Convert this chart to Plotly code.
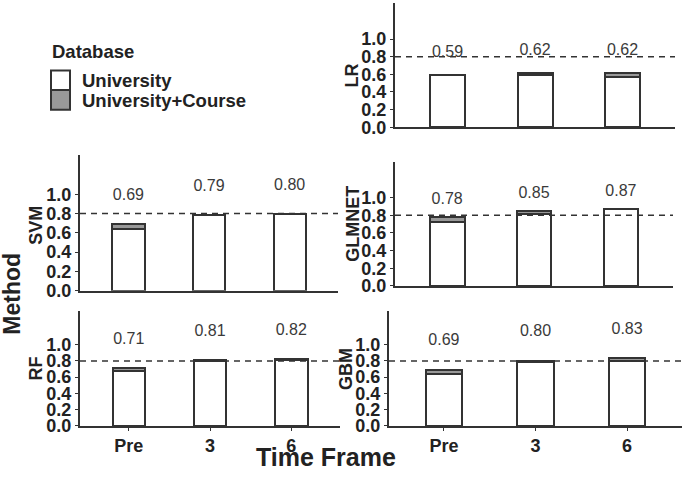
import plotly.graph_objects as go

W, H = 685, 477

time_frames = ["Pre", "3", "6"]
methods = ["LR", "SVM", "GLMNET", "RF", "GBM"]

# University-only AUC and University+Course AUC
uni_lr = [0.59, 0.59, 0.57]
uc_lr = [0.59, 0.62, 0.62]
uni_svm = [0.64, 0.78, 0.795]
uc_svm = [0.69, 0.79, 0.80]
uni_glmnet = [0.72, 0.82, 0.87]
uc_glmnet = [0.78, 0.85, 0.87]
uni_rf = [0.67, 0.80, 0.81]
uc_rf = [0.71, 0.81, 0.82]
uni_gbm = [0.64, 0.79, 0.80]
uc_gbm = [0.69, 0.80, 0.83]

threshold = 0.8
y_ticks = [0.0, 0.2, 0.4, 0.6, 0.8, 1.0]

uni_data = [uni_lr, uni_svm, uni_glmnet, uni_rf, uni_gbm]
uc_data = [uc_lr, uc_svm, uc_glmnet, uc_rf, uc_gbm]

# panel boxes in pixels: (left, right, top, bottom), label offset, title x,y, bottom row
panels = [
    dict(box=(395, 675, 3, 130), off=0.25, tx=352, ty=77, bottom=False),
    dict(box=(80, 338, 158, 297), off=0.29, tx=36.5, ty=230, bottom=False),
    dict(box=(395, 673, 165, 292), off=0.19, tx=353.5, ty=229, bottom=False),
    dict(box=(80, 340, 318, 435), off=0.35, tx=36.5, ty=377, bottom=True),
    dict(box=(389, 682, 318, 435), off=0.35, tx=346, ty=377, bottom=True),
]

LINE = "#333333"
TXT = "#222222"
FONT = "Liberation Sans"

fig = go.Figure()
shapes = []
annotations = []

for i, (m, uni, uc, p) in enumerate(zip(methods, uni_data, uc_data, panels)):
    n = i + 1
    xa = "x" if n == 1 else f"x{n}"
    ya = "y" if n == 1 else f"y{n}"
    diff = [round(b - a, 4) for a, b in zip(uni, uc)]
    fig.add_trace(go.Bar(x=time_frames, y=uni, width=0.4, xaxis=xa, yaxis=ya,
                         marker=dict(color="white", line=dict(color=LINE, width=2)),
                         name="University", showlegend=False))
    fig.add_trace(go.Bar(x=time_frames, y=diff, width=0.4, xaxis=xa, yaxis=ya,
                         marker=dict(color="#999999", line=dict(color=LINE, width=2)),
                         name="University+Course", showlegend=False))
    fig.add_trace(go.Scatter(x=time_frames, y=[v + p["off"] for v in uc], mode="text",
                             text=[f"{v:.2f}" for v in uc], xaxis=xa, yaxis=ya,
                             textposition="middle center",
                             textfont=dict(family=FONT, size=16, color="#3a3a3a"),
                             showlegend=False, hoverinfo="skip"))
    l, r, t, b = p["box"]
    xkey = "xaxis" if n == 1 else f"xaxis{n}"
    ykey = "yaxis" if n == 1 else f"yaxis{n}"
    fig.update_layout(**{
        xkey: dict(domain=[l / W, r / W], anchor=ya, type="category",
                   range=[-0.6, 2.6], showline=True, linecolor=LINE, linewidth=2,
                   showgrid=False, zeroline=False,
                   ticks="outside" if p["bottom"] else "", ticklen=3, tickcolor=LINE,
                   showticklabels=p["bottom"],
                   tickfont=dict(family=FONT, size=18, color=TXT, weight="bold")),
        ykey: dict(domain=[1 - b / H, 1 - t / H], anchor=xa, range=[0, 1.41],
                   tickvals=y_ticks, ticktext=[f"{v:.1f}" for v in y_ticks],
                   showline=True, linecolor=LINE, linewidth=2, showgrid=False,
                   zeroline=False, ticks="outside", ticklen=3, tickcolor=LINE,
                   tickfont=dict(family=FONT, size=18, color=TXT, weight="bold")),
    })
    shapes.append(dict(type="line", xref=f"{xa} domain", yref=ya, x0=0, x1=1,
                       y0=threshold, y1=threshold,
                       line=dict(color=LINE, width=1.5, dash="6px,5px")))
    annotations.append(dict(text=m, xref="paper", yref="paper", x=p["tx"] / W,
                            y=1 - p["ty"] / H, textangle=-90, showarrow=False,
                            xanchor="center", yanchor="middle",
                            font=dict(family=FONT, size=18, color=TXT, weight="bold")))

# overall axis titles
annotations.append(dict(text="Method", xref="paper", yref="paper", x=12 / W, y=1 - 300 / H,
                        textangle=-90, showarrow=False, xanchor="center", yanchor="middle",
                        font=dict(family=FONT, size=23, color=TXT, weight="bold")))
annotations.append(dict(text="Time Frame", xref="paper", yref="paper", x=326 / W, y=1 - 467 / H,
                        showarrow=False, xanchor="center", yanchor="middle",
                        font=dict(family=FONT, size=25, color=TXT, weight="bold")))

# legend
annotations.append(dict(text="Database", xref="paper", yref="paper", x=50 / W, y=1 - 53 / H,
                        showarrow=False, xanchor="left", yanchor="middle",
                        font=dict(family=FONT, size=18.5, color=TXT, weight="bold")))
for lbl, fill, yc in [("University", "white", 82), ("University+Course", "#999999", 102)]:
    shapes.append(dict(type="rect", xref="paper", yref="paper", x0=51 / W, x1=70 / W,
                       y0=1 - (yc + 10) / H, y1=1 - (yc - 10) / H,
                       fillcolor=fill, line=dict(color=LINE, width=2)))
    annotations.append(dict(text=lbl, xref="paper", yref="paper", x=80 / W, y=1 - (yc + 0.7) / H,
                            showarrow=False, xanchor="left", yanchor="middle",
                            font=dict(family=FONT, size=18.5, color=TXT, weight="bold")))

fig.update_layout(width=W, height=H, margin=dict(l=0, r=0, t=0, b=0),
                  barmode="stack", bargap=0.6, plot_bgcolor="white", paper_bgcolor="white",
                  shapes=shapes, annotations=annotations, showlegend=False)

fig.write_html("out.html", config={"displayModeBar": False},
               post_script="document.body.style.margin='0';document.body.style.overflow='hidden';")
